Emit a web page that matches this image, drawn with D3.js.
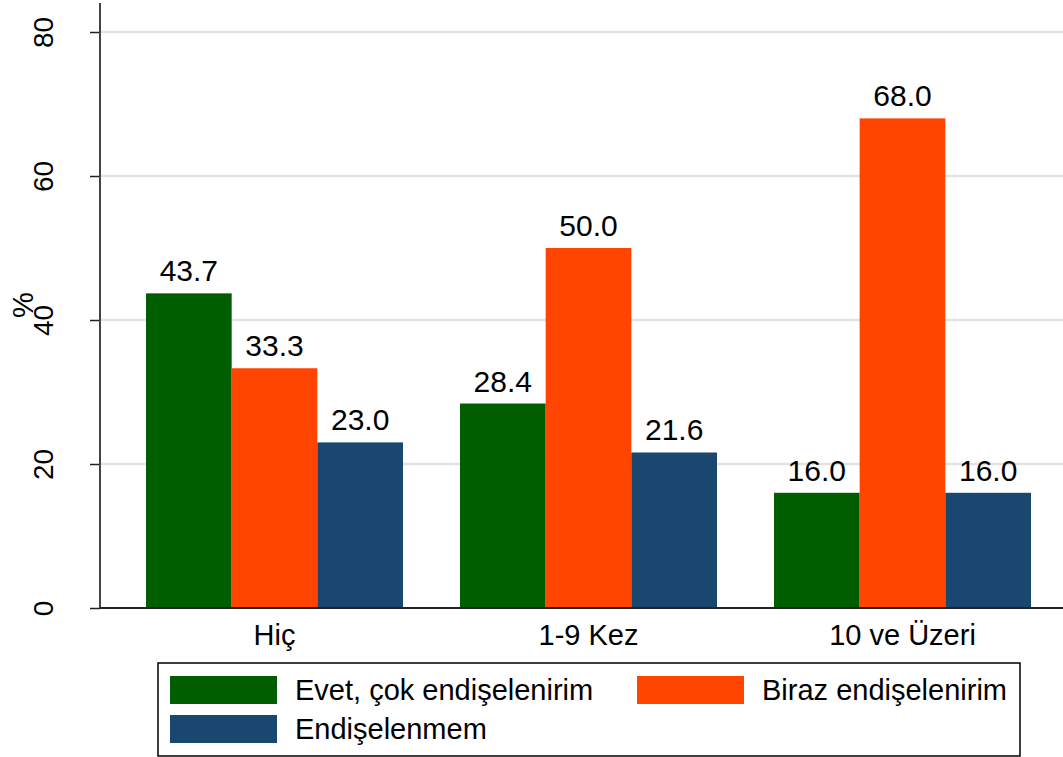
<!DOCTYPE html>
<html>
<head>
<meta charset="utf-8">
<script src="https://cdn.jsdelivr.net/npm/d3@7"></script>
<style>
  html, body { margin: 0; padding: 0; background: #fff; }
  svg { display: block; font-family: "Liberation Sans", Arial, sans-serif; }
</style>
</head>
<body>
<svg id="chart" width="1063" height="757"></svg>
<script>
const categories = ["Hiç", "1-9 Kez", "10 ve Üzeri"];
const seriesNames = ["Evet, çok endişelenirim", "Biraz endişelenirim", "Endişelenmem"];
const evet = [43.7, 28.4, 16.0];
const biraz = [33.3, 50.0, 68.0];
const endiselenmem = [23.0, 21.6, 16.0];
const yTicks = [0, 20, 40, 60, 80];
const colors = ["#005e00", "#ff4500", "#1a476f"];

const seriesValues = [evet, biraz, endiselenmem];
const svg = d3.select("#chart");
const fontSize = 28;

const y = d3.scaleLinear().domain([0, 80]).range([608, 32]);
const x0 = d3.scaleBand().domain(categories).range([146, 1031]).paddingInner(0.1815).paddingOuter(0);
const x1 = d3.scaleBand().domain(seriesNames).range([0, x0.bandwidth()]).padding(0);

// gridlines
svg.append("g").selectAll("line").data(yTicks.filter(d => d > 0)).join("line")
  .attr("x1", 101).attr("x2", 1063)
  .attr("y1", d => y(d)).attr("y2", d => y(d))
  .attr("stroke", "#e3e3e3").attr("stroke-width", 2.5);

// bars
const groups = svg.append("g").selectAll("g").data(categories).join("g")
  .attr("transform", d => `translate(${x0(d)},0)`);
groups.each(function(cat, ci) {
  const g = d3.select(this);
  seriesNames.forEach((s, si) => {
    const v = seriesValues[si][ci];
    g.append("rect")
      .attr("x", x1(s)).attr("width", x1.bandwidth())
      .attr("y", y(v)).attr("height", y(0) - y(v))
      .attr("fill", colors[si]);
    g.append("text")
      .attr("x", x1(s) + x1.bandwidth() / 2)
      .attr("y", y(v) - 12)
      .attr("text-anchor", "middle")
      .attr("font-size", 30)
      .attr("fill", "#000")
      .text(v.toFixed(1));
  });
});

// y axis
const yAxis = d3.axisLeft(y).tickValues(yTicks).tickSize(10).tickPadding(0).tickFormat(d => d);
const ya = svg.append("g").attr("transform", "translate(100,0)").call(yAxis);
ya.select(".domain").remove();
ya.selectAll(".tick line").attr("stroke", "#222").attr("stroke-width", 1.5);
ya.selectAll(".tick text")
  .attr("font-size", fontSize).attr("fill", "#000")
  .attr("font-family", "Liberation Sans, Arial, sans-serif")
  .attr("text-anchor", "middle")
  .attr("transform", "translate(-47,0) rotate(-90)")
  .attr("x", 0).attr("y", 0).attr("dy", 0);
svg.append("line").attr("x1", 100).attr("x2", 100).attr("y1", 3).attr("y2", 608)
  .attr("stroke", "#444").attr("stroke-width", 2);

// x axis
svg.append("line").attr("x1", 100).attr("x2", 1063).attr("y1", 608).attr("y2", 608)
  .attr("stroke", "#222").attr("stroke-width", 2);
const xAxis = d3.axisBottom(x0).tickSize(0).tickPadding(0);
const xa = svg.append("g").attr("transform", "translate(0,608)").call(xAxis);
xa.select(".domain").remove();
xa.selectAll(".tick text")
  .attr("font-size", 29).attr("fill", "#000")
  .attr("font-family", "Liberation Sans, Arial, sans-serif")
  .attr("y", 37).attr("dy", 0);

// y title
svg.append("text")
  .attr("transform", "translate(33,305) rotate(-90)")
  .attr("text-anchor", "middle")
  .attr("font-size", 29)
  .text("%");

// legend
svg.append("rect").attr("x", 158).attr("y", 663).attr("width", 862).attr("height", 93)
  .attr("fill", "#fff").attr("stroke", "#000").attr("stroke-width", 1.5);
const legendPos = [[170, 676], [637, 676], [170, 715]];
seriesNames.forEach((s, i) => {
  const [lx, ly] = legendPos[i];
  svg.append("rect").attr("x", lx).attr("y", ly).attr("width", 107).attr("height", 28)
    .attr("fill", colors[i]);
  svg.append("text").attr("x", lx + 125).attr("y", ly + 24)
    .attr("font-size", 29).attr("fill", "#000").text(s);
});
</script>
</body>
</html>
